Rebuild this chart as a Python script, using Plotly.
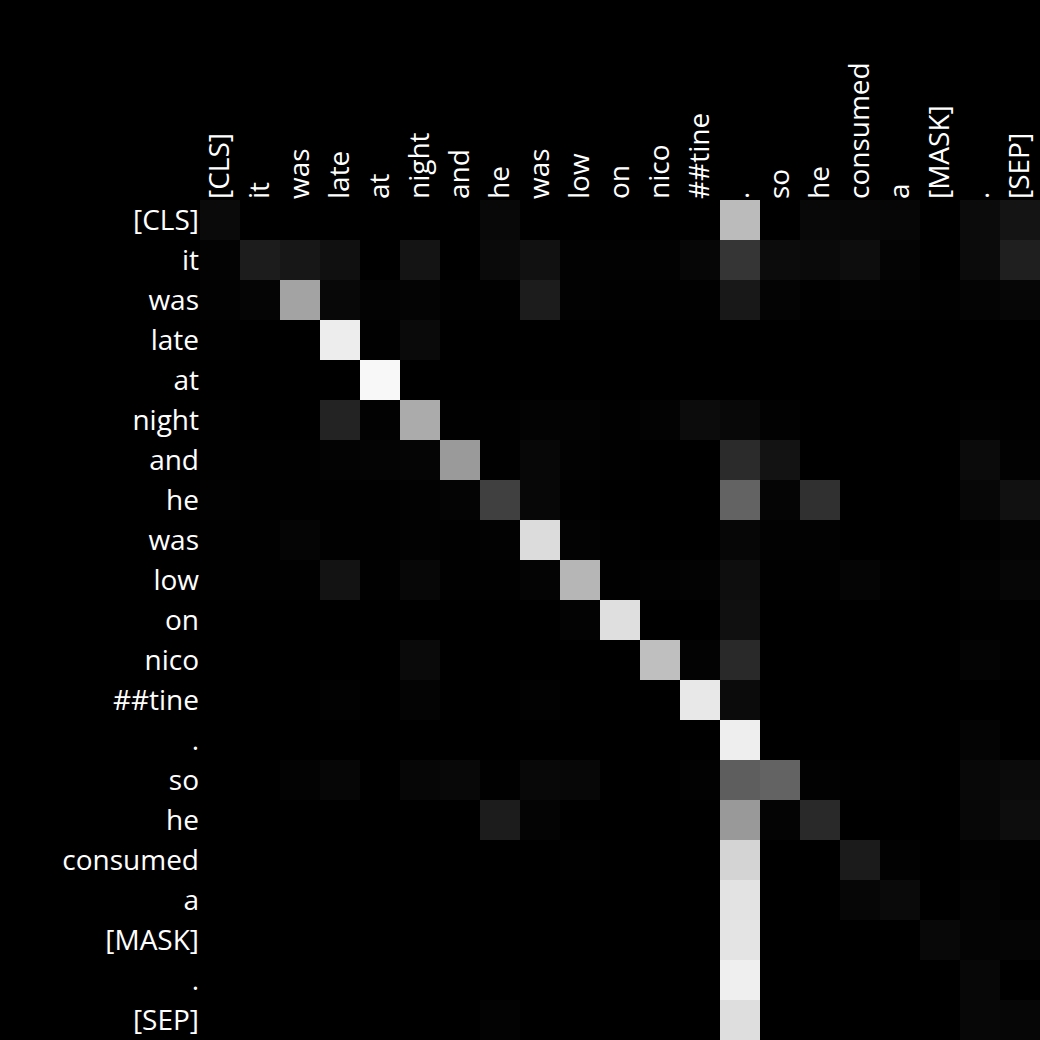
import plotly.graph_objects as go
import numpy as np

tokens = ["[CLS]", "it", "was", "late", "at", "night", "and", "he", "was", "low", "on",
          "nico", "##tine", ".", "so", "he", "consumed", "a", "[MASK]", ".", "[SEP]"]

# attention weights (query rows x key columns), read from grayscale intensity
r00 = [0.039, 0, 0, 0, 0, 0, 0, 0.031, 0, 0, 0, 0, 0, 0.733, 0, 0.031, 0.027, 0.024, 0, 0.043, 0.078]
r01 = [0.012, 0.110, 0.090, 0.063, 0, 0.078, 0, 0.039, 0.067, 0.008, 0.008, 0.008, 0.024, 0.208, 0.047, 0.039, 0.051, 0.016, 0, 0.043, 0.122]
r02 = [0.008, 0.020, 0.639, 0.031, 0.012, 0.016, 0.004, 0.004, 0.110, 0.008, 0.004, 0.004, 0.004, 0.094, 0.016, 0.004, 0.012, 0.008, 0.004, 0.016, 0.024]
r03 = [0.004, 0, 0, 0.929, 0.004, 0.039, 0, 0, 0, 0, 0, 0, 0, 0, 0, 0, 0, 0, 0, 0, 0]
r04 = [0, 0, 0, 0, 0.973, 0, 0, 0, 0, 0, 0, 0, 0, 0, 0, 0, 0, 0, 0, 0, 0]
r05 = [0.004, 0, 0, 0.137, 0.008, 0.671, 0.004, 0.004, 0.012, 0.012, 0.004, 0.012, 0.047, 0.031, 0.008, 0, 0, 0, 0, 0.008, 0.004]
r06 = [0.004, 0.004, 0.004, 0.012, 0.016, 0.020, 0.604, 0.004, 0.027, 0.008, 0.004, 0, 0, 0.169, 0.075, 0, 0, 0, 0, 0.043, 0.008]
r07 = [0.008, 0.004, 0.004, 0.004, 0.004, 0.008, 0.016, 0.251, 0.027, 0.004, 0, 0, 0, 0.388, 0.020, 0.188, 0, 0, 0, 0.027, 0.067]
r08 = [0.004, 0.004, 0.020, 0.004, 0.004, 0.008, 0.004, 0.008, 0.863, 0.012, 0.004, 0, 0, 0.024, 0.008, 0.008, 0, 0, 0, 0.004, 0.016]
r09 = [0.004, 0.004, 0.004, 0.075, 0.004, 0.027, 0.004, 0.004, 0.016, 0.714, 0.004, 0.008, 0.012, 0.055, 0.004, 0.004, 0.020, 0.004, 0, 0.012, 0.024]
r10 = [0, 0, 0, 0, 0, 0, 0, 0, 0, 0.012, 0.875, 0, 0, 0.063, 0, 0, 0, 0, 0, 0.004, 0.004]
r11 = [0, 0, 0, 0, 0, 0.039, 0, 0, 0, 0, 0, 0.749, 0.012, 0.161, 0, 0, 0, 0, 0, 0.016, 0.004]
r12 = [0, 0, 0, 0.008, 0, 0.016, 0, 0, 0.008, 0, 0, 0, 0.910, 0.043, 0, 0, 0, 0, 0, 0, 0]
r13 = [0, 0, 0, 0, 0, 0, 0, 0, 0, 0, 0, 0, 0, 0.933, 0, 0, 0, 0, 0, 0.016, 0]
r14 = [0, 0, 0.012, 0.024, 0, 0.024, 0.031, 0.004, 0.031, 0.027, 0, 0, 0.008, 0.369, 0.388, 0.008, 0.004, 0.004, 0, 0.031, 0.043]
r15 = [0, 0, 0, 0, 0, 0, 0, 0.110, 0.016, 0, 0, 0, 0, 0.600, 0.016, 0.161, 0, 0, 0, 0.027, 0.051]
r16 = [0, 0, 0, 0, 0, 0, 0, 0, 0, 0.004, 0, 0, 0, 0.831, 0, 0, 0.106, 0.008, 0, 0.008, 0.008]
r17 = [0, 0, 0, 0, 0, 0, 0, 0, 0, 0, 0, 0, 0, 0.890, 0, 0, 0.024, 0.039, 0, 0.016, 0.004]
r18 = [0, 0, 0, 0, 0, 0, 0, 0, 0, 0, 0, 0, 0, 0.894, 0, 0, 0, 0, 0.031, 0.016, 0.020]
r19 = [0, 0, 0, 0, 0, 0, 0, 0, 0, 0, 0, 0, 0, 0.937, 0, 0, 0, 0, 0, 0.027, 0]
r20 = [0, 0, 0, 0, 0, 0, 0, 0.012, 0, 0, 0, 0, 0, 0.871, 0, 0, 0, 0, 0, 0.027, 0.024]

rows = [r00, r01, r02, r03, r04, r05, r06, r07, r08, r09, r10,
        r11, r12, r13, r14, r15, r16, r17, r18, r19, r20]

n = len(tokens)
idx = list(range(n))

fig = go.Figure(go.Heatmap(
    z=rows,
    x=idx,
    y=idx,
    zmin=0, zmax=1,
    colorscale=[[0, "rgb(0,0,0)"], [1, "rgb(255,255,255)"]],
    showscale=False,
    hoverinfo="skip",
))

fig.update_layout(
    width=1040, height=1040,
    margin=dict(l=200, r=0, t=200, b=0),
    paper_bgcolor="black",
    plot_bgcolor="black",
    font=dict(family="Open Sans", size=28, color="white"),
)
fig.update_xaxes(
    side="top", tickmode="array", tickvals=idx, ticktext=tokens,
    tickangle=-90, showgrid=False, zeroline=False, showline=False,
    ticks="", range=[-0.5, n - 0.5], ticklabelstandoff=0,
)
fig.update_yaxes(
    tickmode="array", tickvals=idx, ticktext=tokens,
    autorange=False, range=[n - 0.5, -0.5],
    showgrid=False, zeroline=False, showline=False, ticks="",
    ticklabelstandoff=0,
)

fig.write_html("out.html")
